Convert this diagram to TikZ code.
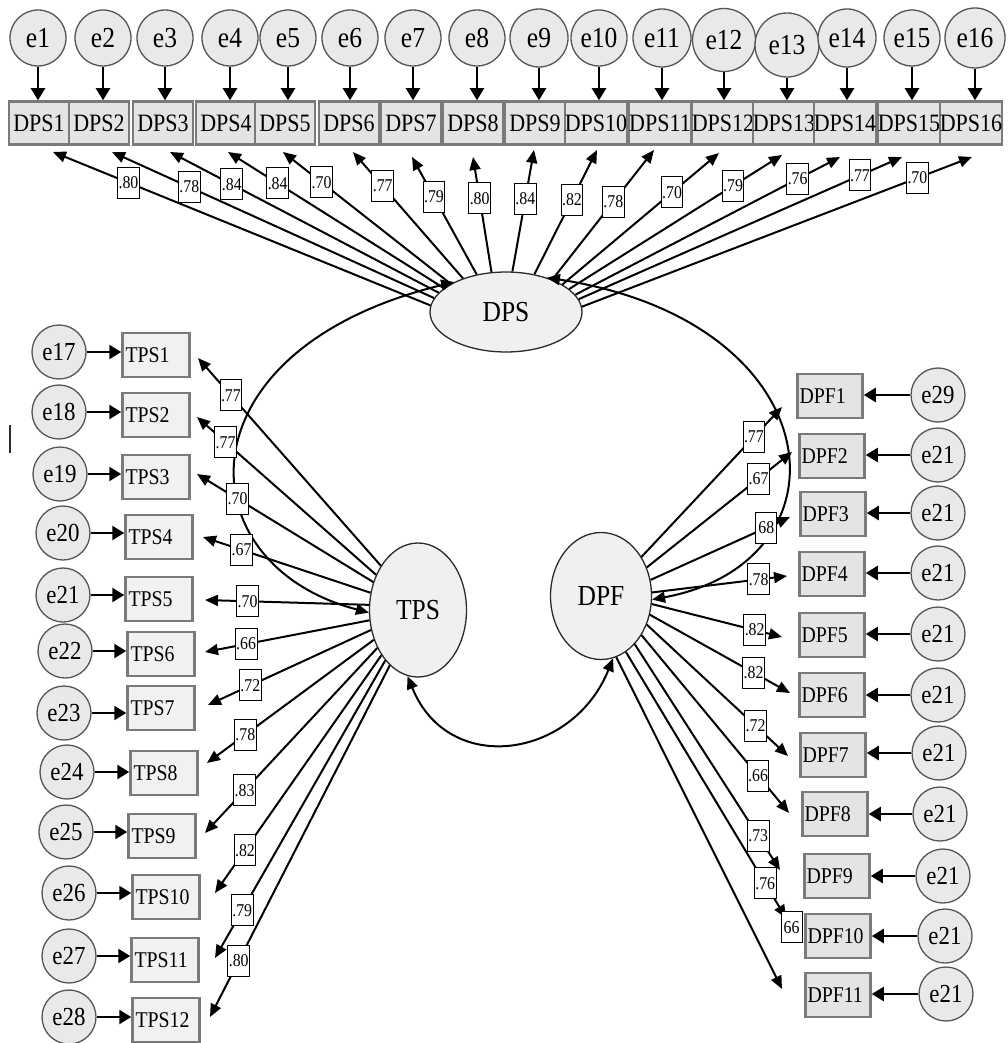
\documentclass[tikz,border=0pt]{standalone}
\usepackage{fontspec}
\setmainfont[FakeStretch=0.88]{Liberation Serif}
\usepackage{tikz}
\usetikzlibrary{arrows.meta,positioning,shapes.geometric}
\definecolor{semline}{HTML}{2B2B2B}
\definecolor{boxline}{HTML}{7A7A7A}
\definecolor{boxfill}{HTML}{E4E4E4}
\definecolor{tpsfill}{HTML}{F1F1F1}
\definecolor{errline}{HTML}{555555}
\definecolor{errfill}{HTML}{E9E9E9}
\definecolor{latfill}{HTML}{F0F0F0}
\tikzset{
  >={Triangle[length=13pt,width=11pt]},
  latentnode/.style={ellipse,draw=semline,line width=1.3pt,fill=latfill,
                     inner sep=0pt,font=\fontsize{29}{32}\selectfont},
  dpsitem/.style={rectangle,draw=boxline,line width=2.5pt,fill=boxfill,
                  inner xsep=0pt,inner ysep=0pt,minimum width=60pt,minimum height=43pt,
                  font=\fontsize{25}{27}\selectfont},
  sideitem/.style={rectangle,draw=boxline,line width=2.5pt,fill=boxfill,
                   text width=61pt,align=left,inner xsep=3pt,inner ysep=0pt,
                   minimum height=44pt,font=\fontsize{22.5}{24}\selectfont},
  errnode/.style={circle,draw=errline,line width=1.3pt,fill=errfill,
                  inner sep=0pt,minimum size=56pt,font=\fontsize{29}{31}\selectfont},
  sideerr/.style={errnode,minimum size=54pt,font=\fontsize{26}{28}\selectfont},
  weightnode/.style={rectangle,draw=black,line width=1pt,fill=white,inner sep=1pt,
                     minimum width=21pt,minimum height=31pt,
                     font=\fontsize{18}{19}\selectfont},
  loadarrow/.style={->,line width=2pt,draw=black},
  errarrow/.style={->,line width=2.3pt,draw=black,
                   >={Triangle[length=12pt,width=14pt]}},
  covarrow/.style={<->,line width=2pt,draw=black},
}
\begin{document}
\begin{tikzpicture}[x=1pt,y=-1pt]
  \useasboundingbox (0,0) rectangle (1007,1043);
  % latent factors
  \node[latentnode,minimum width=152pt,minimum height=80pt] (dps) at (506,312) {DPS};
  \node[latentnode,minimum width=97pt,minimum height=134pt] (tps) at (418,610) {TPS};
  \node[latentnode,minimum width=101pt,minimum height=127pt] (dpf) at (601,596) {DPF};
  % DPS items and errors
  \foreach \i/\ex/\ey/\es/\bx in {1/38/38/56/39,2/103/38/56/99,3/165/38/56/163,
      4/230/38/56/226,5/288/38/56/285,6/350/38/56/349,7/413/38/56/411,8/477/38/56/473,
      9/539/38/58/535,10/599/38/56/596,11/662/38/58/660,12/724/40/63/723,
      13/787/45/64/784,14/847/38/58/845,15/912/38/56/909,16/975/38/60/971}{
    \node[errnode,minimum size=\es pt] (ed\i) at (\ex,\ey) {e\i};
    \node[dpsitem] (dps\i) at (\bx,123) {DPS\i};
    \draw[errarrow] (ed\i.south) -- (ed\i.south |- dps\i.north);
  }
  % TPS items and errors
  \foreach \i/\n/\ex/\ey/\bx/\by in {1/17/59/352/156/355,2/18/59/412/156/415,
      3/19/60/474/156/477,4/20/63/533/159/537,5/21/63/595/159/599,6/22/65/651/161/654,
      7/23/64/713/161/708,8/24/67/772/164/773,9/25/66/832/162/836,10/26/69/893/166/897,
      11/27/69/956/165/960,12/28/69/1017/166/1020}{
    \node[sideerr] (et\i) at (\ex,\ey) {e\n};
    \node[sideitem,fill=tpsfill] (tps\i) at (\bx,\by) {TPS\i};
    \draw[errarrow] (et\i.east) -- (et\i.east -| tps\i.west);
  }
  % DPF items and errors
  \foreach \i/\n/\ex/\ey/\bx/\by in {1/29/938/395/830/396,2/21/938/455/832/456,
      3/21/938/513/833/514,4/21/938/573/832/574,5/21/938/634/832/635,6/21/938/695/832/695,
      7/21/939/753/833/755,8/21/940/814/835/814,9/21/943/876/837/876,10/21/945/936/838/936,
      11/21/946/994/838/995}{
    \node[sideerr] (ef\i) at (\ex,\ey) {e\n};
    \node[sideitem,inner xsep=2pt] (dpf\i) at (\bx,\by) {DPF\i};
    \draw[errarrow] (ef\i.west) -- (ef\i.west -| dpf\i.east);
  }
  % covariances
  \draw[covarrow] (dps.150) .. controls (175,350) and (185,565) .. (tps.183);
  \draw[covarrow] (dps.40) .. controls (835,322) and (855,562) .. (dpf.-4);
  \draw[covarrow] (tps.261) to[out=-68,in=-112,looseness=1.35] (dpf.281);
  % loadings of DPS
  \foreach \i/\a/\tx/\ty/\pp/\lab in {1/175/53/152/.80/.80,2/169/112/152/.76/.78,
      3/164/170/152/.77/.84,4/159/228/152/.77/.84,5/153/283/152/.77/.70,
      6/142/353/152/.73/.77,7/128/412/157/.66/.79,8/110/473/157/.64/.80,
      9/81/534/150/.60/.84,10/53/597/150/.60/.82,11/35/654/150/.60/.78,
      12/26/719/153/.70/.70,13/20/782/155/.77/.79,14/14/840/157/.84/.76,
      15/10/902/157/.87/.77,16/4/972/157/.86/.70}{
    \coordinate (td\i) at (\tx,\ty);
    \draw[loadarrow] (dps.\a) -- node[weightnode,pos=\pp] {\lab} (td\i);
  }
  % loadings of TPS
  \foreach \i/\a/\tx/\ty/\pp/\lab in {1/130/198/358/.82/.77,2/140/197/417/.84/.77,
      3/148/197/474/.77/.70,4/160/203/537/.77/.67,5/174/205/600/.74/.70,
      6/192/205/652/.75/.66,7/203/208/705/.74/.72,8/214/207/763/.77/.78,
      9/223/205/833/.77/.83,10/231/215/893/.82/.82,11/237/215/958/.84/.79,
      12/243/210/1017/.84/.80}{
    \coordinate (tt\i) at (\tx,\ty);
    \draw[loadarrow] (tps.\a) -- node[weightnode,pos=\pp] {\lab} (tt\i);
  }
  % loadings of DPF
  \foreach \i/\a/\tx/\ty/\pp/\lab in {1/44/782/407/.80/.77,2/32/792/452/.77/.67,
      3/18/790/517/.83/68,4/4/787/576/.79/.78,5/-9/782/637/.79/.82,
      6/-21/790/693/.74/.82,7/-32/788/756/.77/.72,8/-44/789/813/.79/.66,
      9/-55/780/870/.85/.73}{
    \coordinate (tf\i) at (\tx,\ty);
    \draw[loadarrow] (dpf.\a) -- node[weightnode,pos=\pp] {\lab} (tf\i);
  }
  \coordinate (tf10) at (786,918);
  \coordinate (tf11) at (782,989);
  \draw[loadarrow] (dpf.-66) -- node[weightnode,pos=.87] {.76}
    node[weightnode,pos=1.035] {66} (tf10);
  \draw[loadarrow] (dpf.-76) -- (tf11);
  % stray mark at the left edge
  \draw[line width=1.2pt,draw=semline] (10,425) -- (10,453);
\end{tikzpicture}
\end{document}
